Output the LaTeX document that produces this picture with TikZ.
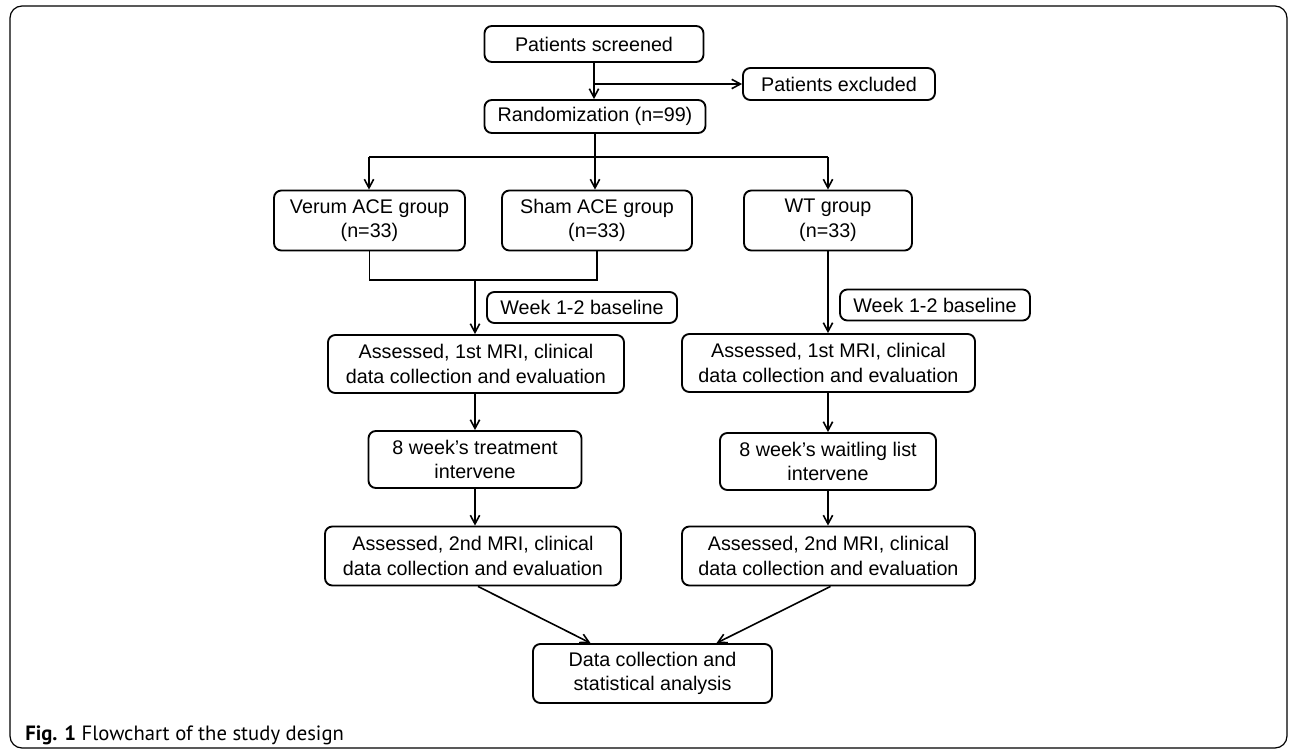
\documentclass[tikz,border=0pt]{standalone}
\usepackage{fontspec}
\setmainfont{Liberation Sans}
\newfontfamily\capfont{PT Sans}
\usetikzlibrary{arrows.meta,calc}
\begin{document}
\begin{tikzpicture}[x=0.75pt,y=-0.75pt,
 box/.style={draw, rounded corners=5.5pt, line width=1.4pt, align=center, inner sep=1pt, font=\fontsize{14.8pt}{18.4pt}\selectfont},
 arr/.style={-{Straight Barb[length=6.5pt,width=7pt]}, line width=1.2pt},
 ln/.style={line width=1.2pt}]
\useasboundingbox (0,0) rectangle (1290,749);
\draw[line width=0.9pt, rounded corners=9pt] (10,6) rectangle (1287,748);
\node[box, minimum width=164.25pt, minimum height=27pt] (scr) at (594,44) {Patients screened};
\node[box, minimum width=144pt, minimum height=24pt] (exc) at (839,84) {Patients excluded};
\node[box, minimum width=165.75pt, minimum height=24.75pt] (rnd) at (595,116.5) {Randomization (n=99)};
\node[box, minimum width=143.25pt, minimum height=45pt] (ver) at (369.5,220.5) {Verum ACE group\\(n=33)};
\node[box, minimum width=142.5pt, minimum height=45pt] (sham) at (597,220.5) {Sham ACE group\\(n=33)};
\node[box, minimum width=126pt, minimum height=45pt] (wt) at (828,220.5) {WT group\\(n=33)};
\node[box, minimum width=142.5pt, minimum height=23.25pt] (wkL) at (582,307.5) {Week 1-2 baseline};
\node[box, minimum width=142.5pt, minimum height=23.25pt] (wkR) at (935,305) {Week 1-2 baseline};
\node[box, minimum width=222pt, minimum height=43.5pt] (a1L) at (476,364) {Assessed, 1st MRI, clinical\\data collection and evaluation};
\node[box, minimum width=219.75pt, minimum height=43.5pt] (a1R) at (828.5,363) {Assessed, 1st MRI, clinical\\data collection and evaluation};
\node[box, minimum width=159.75pt, minimum height=42.75pt] (trt) at (475,459.5) {8 week's treatment\\intervene};
\node[box, minimum width=162pt, minimum height=42.75pt] (wait) at (828,461.5) {8 week's waitling list\\intervene};
\node[box, minimum width=222pt, minimum height=44.25pt] (a2L) at (473,556) {Assessed, 2nd MRI, clinical\\data collection and evaluation};
\node[box, minimum width=219.75pt, minimum height=44.25pt] (a2R) at (828.5,556) {Assessed, 2nd MRI, clinical\\data collection and evaluation};
\node[box, minimum width=179.25pt, minimum height=44.25pt] (dat) at (652.5,673.5) {Data collection and\\statistical analysis};
\node[anchor=base west, inner sep=0pt, font=\capfont\fontsize{15.5pt}{17pt}\selectfont] (cap) at (25,740) {\textbf{Fig. 1} Flowchart of the study design};
% connectors
\draw[arr] (scr) -- (scr |- rnd.north);
\coordinate (ex) at (594,84);
\draw[arr] (ex) -- (exc.west);
\coordinate (b0) at (595,157);
\coordinate (bL) at (369,157);
\coordinate (bR) at (828,157);
\draw[ln] (rnd.south) -- (b0);
\draw[ln] (bL) -- (bR);
\draw[arr] (bL) -- (bL |- ver.north);
\draw[arr] (b0) -- (b0 |- sham.north);
\draw[arr] (bR) -- (wt.north);
\coordinate (m) at (475,280);
\draw[ln] (ver.south) |- (m) -| (sham.south);
\draw[arr] (m) -- (m |- a1L.north);
\draw[arr] (wt.south) -- (wt.south |- a1R.north);
\draw[arr] (trt.north |- a1L.south) -- (trt.north);
\draw[arr] (wait.north |- a1R.south) -- (wait.north);
\draw[arr] (trt.south) -- (trt.south |- a2L.north);
\draw[arr] (wait.south) -- (wait.south |- a2R.north);
\draw[arr] ($(a2L.south)+(5,0)$) -- ($(dat.north)+(-62,0)$);
\draw[arr] ($(a2R.south)+(2,0)$) -- ($(dat.north)+(64,0)$);
\end{tikzpicture}
\end{document}
